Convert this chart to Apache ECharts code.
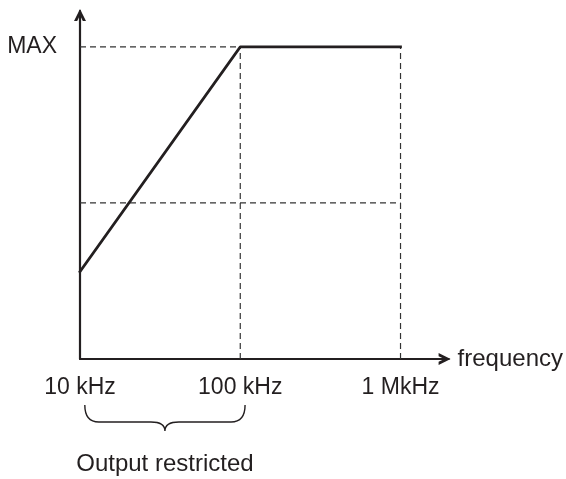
<!DOCTYPE html>
<html>
<head>
<meta charset="utf-8">
<script src="https://cdn.jsdelivr.net/npm/echarts@6/dist/echarts.min.js"></script>
<style>
html,body{margin:0;padding:0;background:#fff;}
#chart{width:566px;height:479px;}
</style>
</head>
<body>
<div id="chart"></div>
<script>
// ---- data ----
var freqLog = [4, 5, 6];                 // log10(frequency): 10 kHz, 100 kHz, 1 MHz
var outputLevel = [0.28, 1, 1];          // relative output (MAX = 1)
var xTickValues = [4, 5, 6];
var xTickLabels = ['10 kHz', '100 kHz', '1 MkHz'];
var yTickValues = [1];
var yTickLabels = ['MAX'];
var hGuideY = [1, 0.5];                  // dashed horizontal guides
var hGuideXEnd = [5, 6];
var vGuideX = [5, 6];                    // dashed vertical guides
var vGuideTop = [1, 1];
var braceRange = [4.03, 5.03];
var braceText = 'Output restricted';
var xName = 'frequency';

var INK = '#231f20';
var FONT = 'Liberation Sans';

var chart = echarts.init(document.getElementById('chart'), null, {renderer: 'canvas'});

var guideSeries = [];
hGuideY.forEach(function (y, i) {
  guideSeries.push({
    type: 'line', data: [[4, y], [hGuideXEnd[i], y]], symbol: 'none', silent: true, z: 1,
    lineStyle: {color: '#333', width: 1.2, type: [6, 4]}
  });
});
vGuideX.forEach(function (x, i) {
  guideSeries.push({
    type: 'line', data: [[x, 0], [x, vGuideTop[i]]], symbol: 'none', silent: true, z: 1,
    lineStyle: {color: '#333', width: 1.2, type: [6, 4]}
  });
});

var arrowPath = 'path://M0,12 L6,0 L12,12 L8.8,12 L6,6.2 L3.2,12 Z';

var option = {
  animation: false,
  backgroundColor: '#fff',
  grid: {left: 80, right: 117, top: 11, bottom: 120},
  xAxis: {
    type: 'value', min: 4, max: 6.3,
    name: xName, nameLocation: 'end', nameGap: 9,
    nameTextStyle: {color: INK, fontSize: 24, fontFamily: FONT, verticalAlign: 'middle', padding: [4, 0, 0, 0]},
    axisLine: {show: true, lineStyle: {color: INK, width: 2.2}, symbol: ['none', arrowPath], symbolSize: [12, 13], symbolOffset: [0, -4]},
    axisTick: {show: false},
    splitLine: {show: false},
    axisLabel: {
      customValues: xTickValues, margin: 17, color: INK, fontSize: 23, fontFamily: FONT,
      formatter: function (v) { var i = xTickValues.indexOf(v); return i >= 0 ? xTickLabels[i] : ''; }
    }
  },
  yAxis: {
    type: 'value', min: 0, max: 1.115,
    axisLine: {show: true, lineStyle: {color: INK, width: 2.2}, symbol: ['none', arrowPath], symbolSize: [12, 13], symbolOffset: [0, -4]},
    axisTick: {show: false},
    splitLine: {show: false},
    axisLabel: {
      customValues: yTickValues, margin: 23, color: INK, fontSize: 23, fontFamily: FONT,
      formatter: function (v) { var i = yTickValues.indexOf(v); return i >= 0 ? yTickLabels[i] : ''; }
    }
  },
  series: guideSeries.concat([
    {
      type: 'line', z: 3, symbol: 'none', silent: true,
      data: freqLog.map(function (f, i) { return [f, outputLevel[i]]; }),
      lineStyle: {color: INK, width: 2.7, cap: 'square'}
    },
    {
      type: 'custom', z: 3, silent: true, clip: false,
      encode: {x: [0, 2], y: 1},
      data: [[braceRange[0], 0, braceRange[1]]],
      renderItem: function (params, api) {
        var p0 = api.coord([api.value(0), 0]);
        var p1 = api.coord([api.value(2), 0]);
        var x0 = p0[0], x1 = p1[0], y0 = p0[1];
        var top = y0 + 46, hor = y0 + 63, tip = y0 + 72, r = 14;
        var mid = (x0 + x1) / 2;
        var d = 'M' + x0 + ',' + top +
          ' Q' + x0 + ',' + hor + ' ' + (x0 + r) + ',' + hor +
          ' L' + (mid - r) + ',' + hor +
          ' Q' + mid + ',' + hor + ' ' + mid + ',' + tip +
          ' Q' + mid + ',' + hor + ' ' + (mid + r) + ',' + hor +
          ' L' + (x1 - r) + ',' + hor +
          ' Q' + x1 + ',' + hor + ' ' + x1 + ',' + top;
        return {
          type: 'group',
          children: [
            {type: 'path', shape: {pathData: d}, style: {stroke: INK, fill: null, lineWidth: 1.4}},
            {type: 'text', style: {text: braceText, x: mid, y: y0 + 105, textAlign: 'center', textVerticalAlign: 'middle',
              fill: INK, font: '24px "Liberation Sans"'}}
          ]
        };
      }
    }
  ])
};
chart.setOption(option);
</script>
</body>
</html>
